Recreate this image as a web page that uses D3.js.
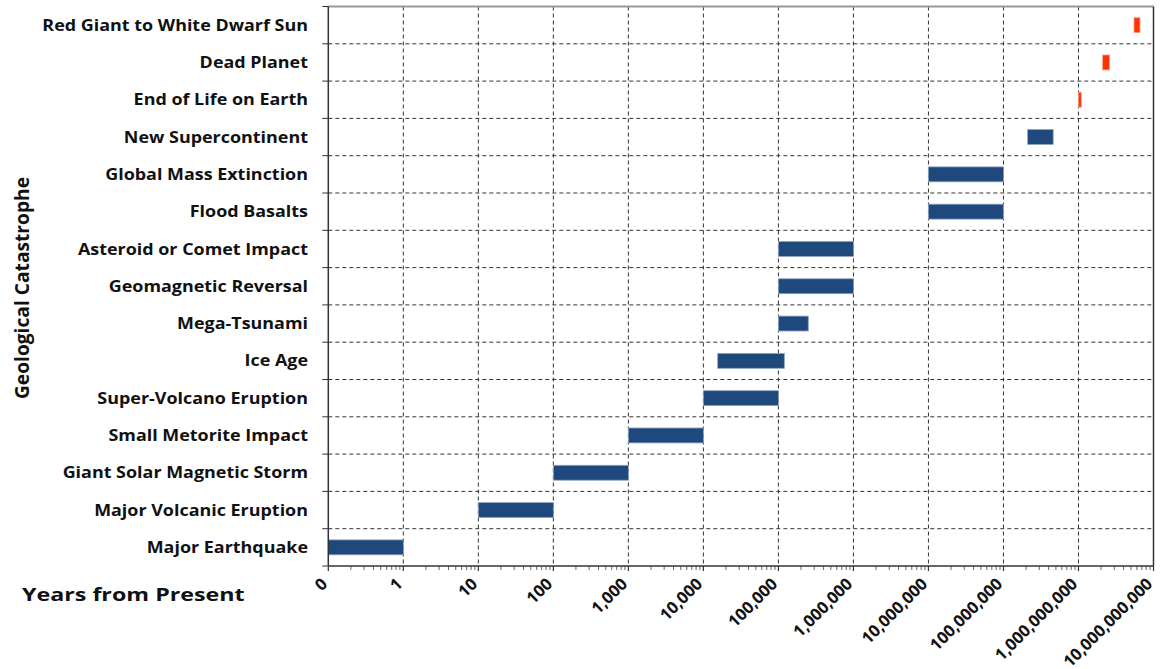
<!DOCTYPE html>
<html>
<head>
<meta charset="utf-8">
<script src="https://cdn.jsdelivr.net/npm/d3@7"></script>
<style>
  body { margin: 0; background: #fff; }
  svg { display: block; }
</style>
</head>
<body>
<svg id="chart" width="1161" height="669"></svg>
<script>
// categories bottom -> top
var categories = ["Major Earthquake", "Major Volcanic Eruption", "Giant Solar Magnetic Storm",
    "Small Metorite Impact", "Super-Volcano Eruption", "Ice Age", "Mega-Tsunami",
    "Geomagnetic Reversal", "Asteroid or Comet Impact", "Flood Basalts",
    "Global Mass Extinction", "New Supercontinent", "End of Life on Earth",
    "Dead Planet", "Red Giant to White Dwarf Sun"];
var startYears = [0, 10, 100, 1000, 10000, 15500, 100000, 100000, 100000,
    10000000, 10000000, 210000000, 1000000000, 2100000000, 5500000000];
var endYears = [1, 100, 1000, 10000, 100000, 120000, 250000, 1000000, 1000000,
    100000000, 100000000, 460000000, 1090000000, 2600000000, 6600000000];
// true = far-future (red) event
var isFuture = [false, false, false, false, false, false, false, false, false,
    false, false, false, true, true, true];
var tickValues = [0.1, 1, 10, 100, 1e3, 1e4, 1e5, 1e6, 1e7, 1e8, 1e9, 1e10];
var tickLabels = ["0", "1", "10", "100", "1,000", "10,000", "100,000", "1,000,000",
    "10,000,000", "100,000,000", "1,000,000,000", "10,000,000,000"];

var svg = d3.select("#chart");
var plotLeft = 328.3, plotRight = 1153.5, plotTop = 6.5, plotBottom = 566;
var labelFont = "'Open Sans', 'DejaVu Sans', sans-serif";

var x = d3.scaleLog().domain([0.1, 1e10]).range([plotLeft, plotRight]);
var y = d3.scaleBand().domain(categories.slice().reverse()).range([plotTop, plotBottom]).padding(0);

var grid = svg.append("g");
// horizontal dashed grid at category boundaries
var bounds = d3.range(1, categories.length).map(function (i) { return plotTop + i * y.bandwidth(); });
grid.selectAll(".hg").data(bounds).enter().append("line")
    .attr("x1", plotLeft).attr("x2", plotRight)
    .attr("y1", function (d) { return d; }).attr("y2", function (d) { return d; })
    .style("stroke", "#333").style("stroke-width", 1).style("stroke-dasharray", "4,3");
// vertical dashed grid at decades
grid.selectAll(".vg").data(tickValues.slice(1, -1)).enter().append("line")
    .attr("x1", function (d) { return x(d); }).attr("x2", function (d) { return x(d); })
    .attr("y1", plotTop).attr("y2", plotBottom)
    .style("stroke", "#333").style("stroke-width", 1).style("stroke-dasharray", "4,3");

// bars
svg.append("g").selectAll("rect").data(categories).enter().append("rect")
    .attr("x", function (d, i) { return x(Math.max(0.1, startYears[i])); })
    .attr("width", function (d, i) { return x(endYears[i]) - x(Math.max(0.1, startYears[i])); })
    .attr("y", function (d) { return y(d) + y.bandwidth() * 0.3; })
    .attr("height", y.bandwidth() * 0.4)
    .style("fill", function (d, i) { return isFuture[i] ? "#ff3300" : "#1f497d"; })
    .style("stroke", function (d, i) { return isFuture[i] ? "#ff9a80" : "#8ea4c0"; })
    .style("stroke-width", 0.8);

// frame
svg.append("line").attr("x1", plotLeft).attr("x2", plotRight).attr("y1", plotTop).attr("y2", plotTop)
    .style("stroke", "#999").style("stroke-width", 2);
svg.append("line").attr("x1", plotRight).attr("x2", plotRight).attr("y1", plotTop).attr("y2", plotBottom)
    .style("stroke", "#333").style("stroke-width", 1.5);

// x axis with log minor ticks
var minor = [];
tickValues.slice(0, -1).forEach(function (v) {
    for (var k = 2; k < 10; k++) minor.push(v * k);
});
var xAxisG = svg.append("g").attr("transform", "translate(0," + plotBottom + ")");
xAxisG.selectAll(".minor").data(minor).enter().append("line")
    .attr("x1", function (d) { return x(d); }).attr("x2", function (d) { return x(d); })
    .attr("y1", 0).attr("y2", 4)
    .style("stroke", "#666").style("stroke-width", 1);
xAxisG.selectAll(".major").data(tickValues).enter().append("line")
    .attr("x1", function (d) { return x(d); }).attr("x2", function (d) { return x(d); })
    .attr("y1", 0).attr("y2", 5)
    .style("stroke", "#333").style("stroke-width", 1.2);
xAxisG.append("line").attr("x1", plotLeft).attr("x2", plotRight).attr("y1", 0).attr("y2", 0)
    .style("stroke", "#333").style("stroke-width", 1.5);
xAxisG.selectAll(".tl").data(tickValues).enter().append("text")
    .attr("transform", function (d) { return "translate(" + x(d) + ",19) rotate(-45)"; })
    .attr("text-anchor", "end")
    .style("font-family", labelFont)
    .style("font-weight", "bold")
    .style("font-size", "16.5px")
    .style("fill", "#111")
    .text(function (d, i) { return tickLabels[i]; });

// y axis
var yAxisG = svg.append("g");
yAxisG.append("line").attr("x1", plotLeft).attr("x2", plotLeft).attr("y1", plotTop).attr("y2", plotBottom)
    .style("stroke", "#333").style("stroke-width", 1.5);
yAxisG.selectAll(".yt").data([plotTop].concat(bounds, [plotBottom])).enter().append("line")
    .attr("x1", plotLeft - 6).attr("x2", plotLeft)
    .attr("y1", function (d) { return d; }).attr("y2", function (d) { return d; })
    .style("stroke", "#333").style("stroke-width", 1);
// labels are drawn a little wider than the font to match the original's letter width
yAxisG.selectAll(".yl").data(categories).enter().append("text")
    .attr("transform", function (d) {
        return "translate(308," + (y(d) + y.bandwidth() / 2) + ") scale(1.157,1)";
    })
    .attr("dy", "0.36em")
    .attr("text-anchor", "end")
    .style("font-family", labelFont)
    .style("font-weight", "bold")
    .style("font-size", "15.5px")
    .style("fill", "#111")
    .text(function (d) { return d; });

// titles
svg.append("text")
    .attr("transform", "translate(22,601) scale(1.27,1)")
    .style("font-family", labelFont)
    .style("font-weight", "bold")
    .style("font-size", "18.3px")
    .style("fill", "#111")
    .text("Years from Present");
svg.append("text")
    .attr("transform", "translate(29,288) rotate(-90)")
    .attr("text-anchor", "middle")
    .style("font-family", labelFont)
    .style("font-weight", "bold")
    .style("font-size", "19.2px")
    .style("fill", "#111")
    .text("Geological Catastrophe");
</script>
</body>
</html>
